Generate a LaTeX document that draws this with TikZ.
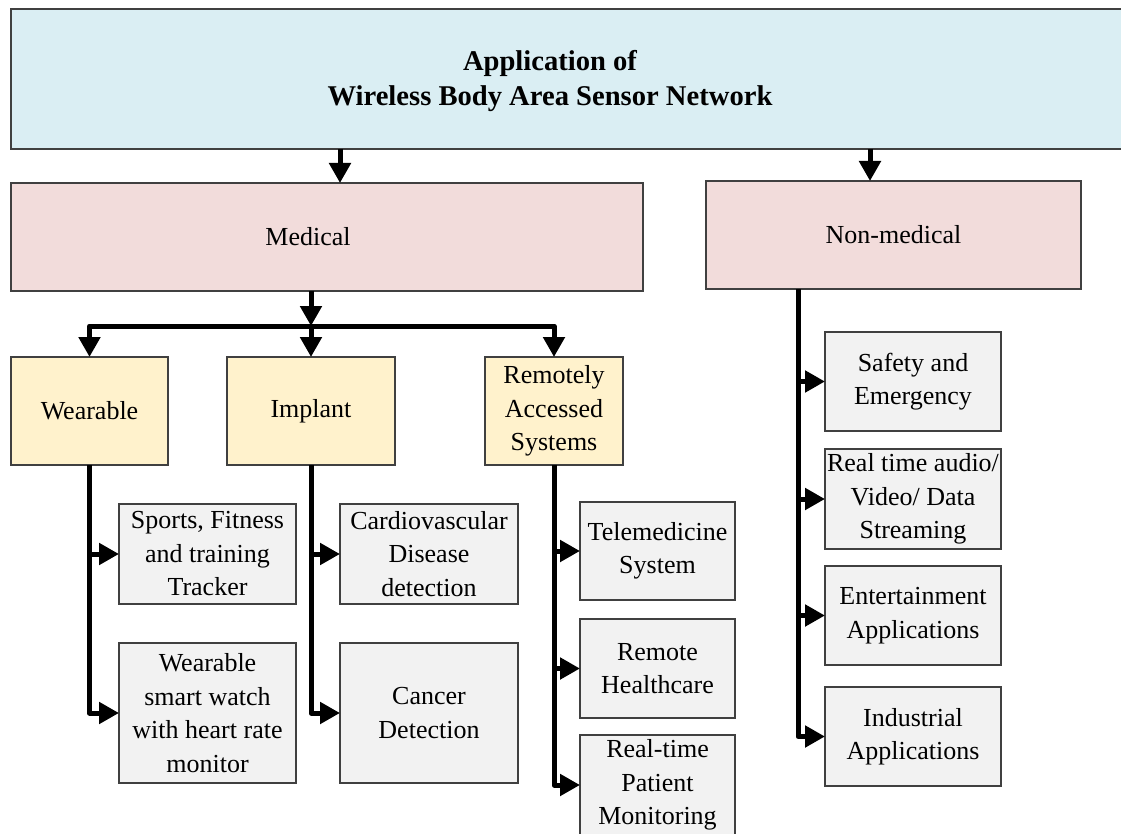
\documentclass[tikz,border=0pt]{standalone}
\usepackage{fontspec}
\setmainfont{Liberation Serif}
\usetikzlibrary{arrows.meta}
\definecolor{topfill}{HTML}{DAEEF3}
\definecolor{catfill}{HTML}{F2DCDB}
\definecolor{subfill}{HTML}{FFF2CC}
\definecolor{leaffill}{HTML}{F2F2F2}
\definecolor{edge}{HTML}{404040}
\tikzset{
  box/.style={draw=edge, line width=1.1pt, rectangle, inner sep=0pt, outer sep=0pt,
    align=center, font=\fontsize{26}{33.5}\selectfont},
  topbox/.style={box, fill=topfill},
  catbox/.style={box, fill=catfill},
  subbox/.style={box, fill=subfill},
  leafbox/.style={box, fill=leaffill},
  conn/.style={line width=5pt, line join=round, -{Triangle[length=20pt,width=21pt]}},
  bothconn/.style={line width=5pt, line join=round, {Triangle[length=20pt,width=21pt]}-{Triangle[length=20pt,width=21pt]}}
}
\begin{document}
\begin{tikzpicture}[x=1pt,y=-1pt]
\useasboundingbox (0,0) rectangle (1121,834);
\clip (0,0) rectangle (1121,834);

% top level
\node[topbox, minimum width=1114pt, minimum height=140pt] (top) at (568,79) {};
\node[font=\bfseries\fontsize{28.6}{35}\selectfont, align=center, inner sep=0pt] (title) at (550,81)
  {Application of\\Wireless Body Area Sensor Network};

% categories
\node[catbox, minimum width=632pt, minimum height=108pt] (med) at (327,237) {\hspace*{-38pt}Medical};
\node[catbox, minimum width=375pt, minimum height=108pt] (nonmed) at (893.5,235) {Non-medical};

% medical sub-categories
\node[subbox, minimum width=157pt, minimum height=108pt] (wear) at (89.5,411) {Wearable};
\node[subbox, minimum width=168pt, minimum height=108pt] (impl) at (311,411) {Implant};
\node[subbox, minimum width=138pt, minimum height=108pt] (rem) at (554,411) {Remotely\\Accessed\\Systems};

% wearable leaves
\node[leafbox, minimum width=177pt, minimum height=100pt] (sports) at (207.5,554) {Sports, Fitness\\and training\\Tracker};
\node[leafbox, minimum width=177pt, minimum height=140pt] (watch) at (207.5,713) {Wearable\\smart watch\\with heart rate\\monitor};

% implant leaves
\node[leafbox, minimum width=178pt, minimum height=100pt] (cardio) at (429,554) {Cardiovascular\\Disease\\detection};
\node[leafbox, minimum width=178pt, minimum height=140pt] (cancer) at (429,713) {Cancer\\Detection};

% remote leaves
\node[leafbox, minimum width=155pt, minimum height=98pt] (tele) at (657.5,551) {Telemedicine\\System};
\node[leafbox, minimum width=155pt, minimum height=99pt] (rhc) at (657.5,668.5) {Remote\\Healthcare};
\node[leafbox, minimum width=155pt, minimum height=100pt] (rtpm) at (657.5,785) {Real-time\\Patient\\Monitoring};

% non-medical leaves
\node[leafbox, minimum width=176pt, minimum height=99pt] (safety) at (913,381.5) {Safety and\\Emergency};
\node[leafbox, minimum width=176pt, minimum height=100pt] (stream) at (913,499) {Real time audio/\\Video/ Data\\Streaming};
\node[leafbox, minimum width=176pt, minimum height=99pt] (ent) at (913,615.5) {Entertainment\\Applications};
\node[leafbox, minimum width=176pt, minimum height=99pt] (ind) at (913,736.5) {Industrial\\Applications};

% connector anchors
\coordinate (medx) at (340,0);
\coordinate (nonx) at (870,0);
\coordinate (bar) at (0,326);
\coordinate (spine) at (798,0);

% top to categories
\draw[conn] (top.south -| medx) -- (med.north -| medx);
\draw[conn] (top.south -| nonx) -- (nonmed.north -| nonx);

% medical fan-out
\draw[conn] (med.south -| impl.north) -- (bar -| impl.north);
\draw[bothconn] (wear.north) -- (wear.north |- bar) -- (rem.north |- bar) -- (rem.north);
\draw[conn] (bar -| impl.north) -- (impl.north);

% wearable branch
\draw[conn] (wear.south) |- (watch.west);
\draw[conn] (wear.south |- sports.west) -- (sports.west);

% implant branch
\draw[conn] (impl.south) |- (cancer.west);
\draw[conn] (impl.south |- cardio.west) -- (cardio.west);

% remote branch
\draw[conn] (rem.south) |- (rtpm.west);
\draw[conn] (rem.south |- tele.west) -- (tele.west);
\draw[conn] (rem.south |- rhc.west) -- (rhc.west);

% non-medical branch
\draw[conn] (nonmed.south -| spine) |- (ind.west);
\draw[conn] (spine |- safety.west) -- (safety.west);
\draw[conn] (spine |- stream.west) -- (stream.west);
\draw[conn] (spine |- ent.west) -- (ent.west);
\end{tikzpicture}
\end{document}
